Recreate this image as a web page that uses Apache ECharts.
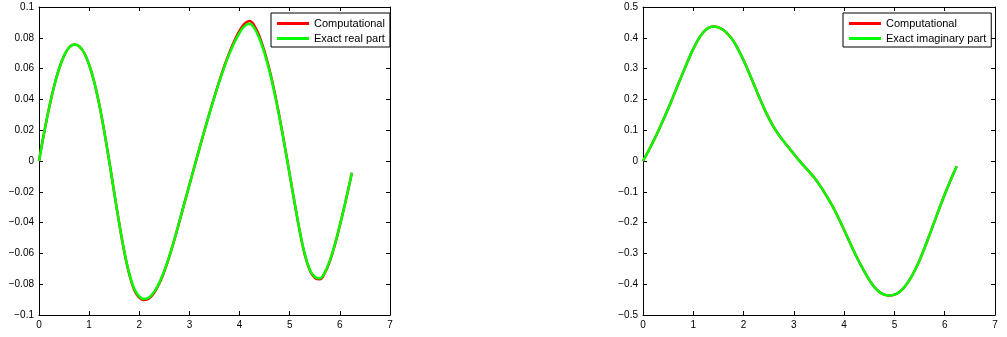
<!DOCTYPE html>
<html>
<head>
<meta charset="utf-8">
<script src="https://cdn.jsdelivr.net/npm/echarts@6/dist/echarts.min.js"></script>
<style>
html,body{margin:0;padding:0;background:#fff;}
#c{width:1007px;height:337px;}
</style>
</head>
<body>
<div id="c"></div>
<script>
// x samples (same for both panels)
var xs = [0,0.1,0.2,0.3,0.4,0.5,0.6,0.7,0.8,0.9,1.0,1.1,1.2,1.3,1.4,1.5,1.6,1.7,1.8,1.9,
          2.0,2.1,2.2,2.3,2.4,2.5,2.6,2.7,2.8,2.9,3.0,3.1,3.2,3.3,3.4,3.5,3.6,3.7,3.8,3.9,
          4.0,4.1,4.2,4.3,4.4,4.5,4.6,4.7,4.8,4.9,5.0,5.1,5.2,5.3,5.4,5.5,5.6,5.7,5.8,5.9,
          6.0,6.1,6.2,6.24];

// Left panel: real part
var realComputational = [0,0.018,0.0343,0.0484,0.0599,0.0684,0.0737,0.0756,0.0745,0.0703,
  0.0625,0.0515,0.037,0.0195,0,-0.0205,-0.0405,-0.0588,-0.0735,-0.0837,
  -0.0887,-0.0903,-0.0891,-0.0854,-0.0795,-0.0716,-0.0620,-0.0511,-0.0394,-0.0274,
  -0.0155,-0.0036,0.0082,0.0198,0.0311,0.0420,0.0523,0.0620,0.0707,0.0782,
  0.0847,0.0892,0.0909,0.0876,0.0806,0.0709,0.0589,0.0445,0.0280,0.0100,
  -0.0088,-0.0276,-0.0456,-0.0608,-0.0709,-0.0758,-0.0768,-0.0727,-0.0651,-0.0545,
  -0.0419,-0.0283,-0.0137,-0.0077];
var realExact = [0,0.018,0.0343,0.0484,0.0599,0.0684,0.0737,0.0756,0.0745,0.0703,
  0.0625,0.0515,0.037,0.0195,0,-0.0205,-0.0405,-0.0585,-0.073,-0.083,
  -0.088,-0.0896,-0.0884,-0.0848,-0.0790,-0.0712,-0.0617,-0.0509,-0.0393,-0.0274,
  -0.0155,-0.0036,0.0082,0.0197,0.0309,0.0417,0.0519,0.0614,0.0699,0.0771,
  0.0833,0.0876,0.0892,0.0860,0.0792,0.0697,0.0579,0.0437,0.0274,0.0096,
  -0.0090,-0.0276,-0.0454,-0.0604,-0.0704,-0.0752,-0.0762,-0.0722,-0.0647,-0.0542,
  -0.0417,-0.0282,-0.0137,-0.0077];

// Right panel: imaginary part
var imagComputational = [0,0.030,0.062,0.096,0.132,0.170,0.209,0.249,0.289,0.328,
  0.364,0.395,0.418,0.432,0.437,0.434,0.425,0.410,0.389,0.360,
  0.327,0.290,0.251,0.212,0.174,0.140,0.110,0.085,0.063,0.043,
  0.023,0.003,-0.016,-0.034,-0.053,-0.075,-0.100,-0.127,-0.156,-0.189,
  -0.224,-0.260,-0.295,-0.328,-0.358,-0.386,-0.409,-0.425,-0.434,-0.437,
  -0.434,-0.425,-0.409,-0.386,-0.357,-0.322,-0.282,-0.239,-0.195,-0.151,
  -0.109,-0.069,-0.031,-0.017];
var imagExact = [0,0.030,0.062,0.096,0.132,0.170,0.209,0.249,0.289,0.328,
  0.364,0.395,0.418,0.432,0.437,0.434,0.425,0.410,0.389,0.360,
  0.327,0.290,0.251,0.212,0.174,0.140,0.110,0.085,0.063,0.043,
  0.023,0.003,-0.016,-0.034,-0.053,-0.075,-0.100,-0.127,-0.156,-0.189,
  -0.224,-0.260,-0.295,-0.328,-0.358,-0.386,-0.409,-0.425,-0.434,-0.437,
  -0.434,-0.425,-0.409,-0.386,-0.357,-0.322,-0.282,-0.239,-0.195,-0.151,
  -0.109,-0.069,-0.031,-0.017];

var legendLeft = ['Computational', 'Exact real part'];
var legendRight = ['Computational', 'Exact imaginary part'];

function pairs(y){ return xs.map(function(x,i){ return [x, y[i]]; }); }
function fmt(v){
  var s = String(parseFloat(Number(v).toFixed(4)));
  return s.replace('-', '\u2212');
}

var FONT = 'Liberation Sans';
function xAx(grid, pos){
  return {
    type:'value', gridIndex:grid, position:pos, min:0, max:7, interval:1,
    axisLine:{show:true, onZero:false, lineStyle:{color:'#000', width:1}},
    axisTick:{show:true, inside:true, length:4, lineStyle:{color:'#000'}},
    axisLabel:{show:pos==='bottom', color:'#000', fontSize:10, fontFamily:FONT, margin:5},
    splitLine:{show:false}
  };
}
function yAx(grid, pos, mn, mx, iv){
  return {
    type:'value', gridIndex:grid, position:pos, min:mn, max:mx, interval:iv,
    axisLine:{show:true, onZero:false, lineStyle:{color:'#000', width:1}},
    axisTick:{show:true, inside:true, length:4, lineStyle:{color:'#000'}},
    axisLabel:{show:pos==='left', color:'#000', fontSize:10, fontFamily:FONT, margin:5, formatter:fmt},
    splitLine:{show:false}
  };
}
function lineSeries(name, xi, yi, data, color){
  return {
    name:name, type:'line', xAxisIndex:xi, yAxisIndex:yi, data:pairs(data),
    showSymbol:false, symbol:'none', smooth:0.4, animation:false,
    lineStyle:{color:color, width:2.5}, itemStyle:{color:color}
  };
}
function legend(left, names){
  return {
    orient:'vertical', left:left, top:13, data:names,
    icon:'rect', itemWidth:32, itemHeight:3, itemGap:4,
    padding:[5,5,3,6], borderColor:'#000', borderWidth:1, backgroundColor:'#fff',
    textStyle:{color:'#000', fontSize:11, fontFamily:FONT}, selectedMode:false
  };
}

var chart = echarts.init(document.getElementById('c'));
chart.setOption({
  animation:false,
  backgroundColor:'#fff',
  textStyle:{fontFamily:FONT},
  grid:[
    {left:39, top:7, width:351, height:308},
    {left:643, top:7, width:352, height:308}
  ],
  xAxis:[xAx(0,'bottom'), xAx(0,'top'), xAx(1,'bottom'), xAx(1,'top')],
  yAxis:[yAx(0,'left',-0.1,0.1,0.02), yAx(0,'right',-0.1,0.1,0.02),
         yAx(1,'left',-0.5,0.5,0.1), yAx(1,'right',-0.5,0.5,0.1)],
  legend:[legend(271, legendLeft), legend(843, legendRight)],
  series:[
    lineSeries(legendLeft[0], 0, 0, realComputational, '#ff0000'),
    lineSeries(legendLeft[1], 0, 0, realExact, '#00ff00'),
    lineSeries(legendRight[0], 2, 2, imagComputational, '#ff0000'),
    lineSeries(legendRight[1], 2, 2, imagExact, '#00ff00')
  ]
});
</script>
</body>
</html>
